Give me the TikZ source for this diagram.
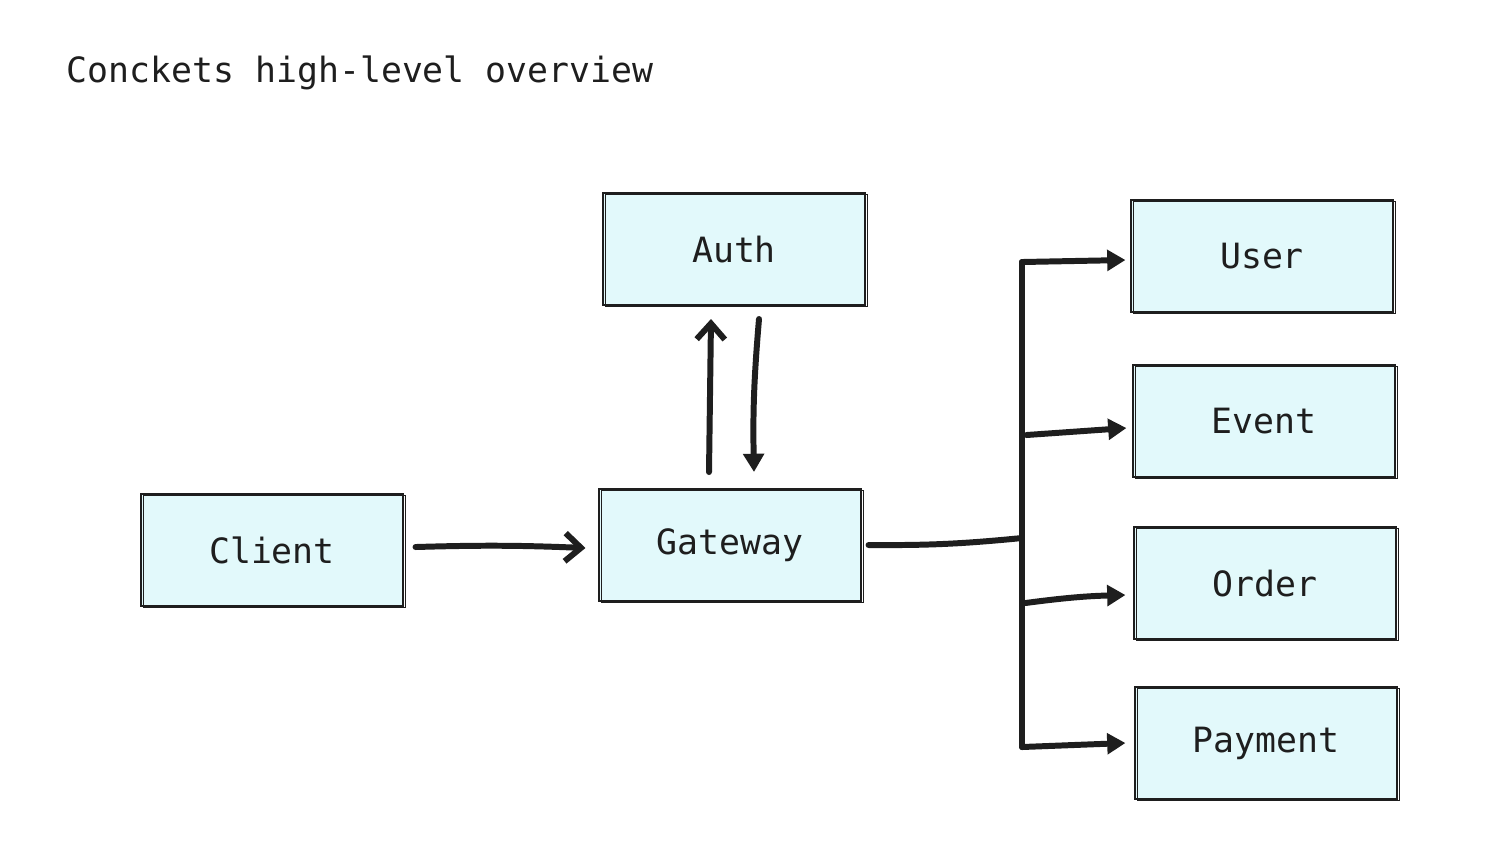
\documentclass[tikz,border=0pt]{standalone}
\usepackage{fontspec}
\setmonofont{DejaVu Sans Mono}
\usetikzlibrary{arrows.meta,calc}
\definecolor{ink}{HTML}{1E1E1E}
\definecolor{boxfill}{HTML}{E2F9FB}

\begin{document}
\begin{tikzpicture}[x=0.01cm,y=-0.01cm,font=\ttfamily\fontsize{9.9pt}{12pt}\selectfont]
\tikzstyle{sketchbox}=[rectangle,draw=ink,fill=boxfill,line width=0.55pt,text=ink,minimum width=2.61cm,minimum height=1.12cm,inner sep=0pt,postaction={draw=ink,line width=0.3pt,transform canvas={xshift=0.7pt,yshift=-0.5pt}}]
\tikzstyle{wire}=[draw=ink,line width=1.7pt,line cap=round,line join=round]
\tikzstyle{openarrow}=[wire,-{Straight Barb[length=4.5pt,width=8pt]}]
\tikzstyle{solidarrow}=[wire,-{Triangle[length=5.2pt,width=5.8pt]}]
\useasboundingbox[fill=white] (0,0) rectangle (1497,859);
\node[anchor=base west,text=ink,inner sep=0pt] (title) at (66,82) {Conckets high-level overview};
\node[sketchbox] (auth) at (734,249) {Auth};
\node[sketchbox] (client) at (272,550) {Client};
\node[sketchbox] (gateway) at (730,545) {Gateway};
\node[sketchbox] (user) at (1262,256) {User};
\node[sketchbox] (event) at (1264,421) {Event};
\node[sketchbox] (order) at (1265,583) {Order};
\node[sketchbox] (payment) at (1266,743) {Payment};
\coordinate (joint) at (1022,538);
\coordinate (bustop) at (1022,262);
\coordinate (busbot) at (1022,747);

\draw[openarrow] ($(client.east)+(12,-3)$) to[bend left=2] ($(gateway.west)+(-13,3)$);
\draw[openarrow] ($(gateway.north)+(-21,-16)$) -- ($(auth.south)+(-23,13)$);
\draw[solidarrow] ($(auth.south)+(25,13)$) to[bend right=3] ($(gateway.north)+(24,-16)$);
\draw[wire] ($(gateway.east)+(7,0)$) to[bend right=3] (joint);
\draw[wire] (bustop) -- (busbot);
\draw[solidarrow] (bustop) -- ($(user.west)+(-5,4)$);
\draw[solidarrow] ($(event.west)+(-106,14)$) -- ($(event.west)+(-6,7)$);
\draw[solidarrow] ($(order.west)+(-108,20)$) to[bend left=3] ($(order.west)+(-8,12)$);
\draw[solidarrow] (busbot) -- ($(payment.west)+(-9,0)$);
\end{tikzpicture}
\end{document}
